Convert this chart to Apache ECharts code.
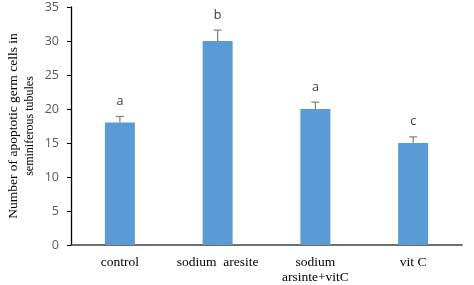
<!DOCTYPE html>
<html><head><meta charset="utf-8">
<script src="https://cdn.jsdelivr.net/npm/echarts@6/dist/echarts.min.js"></script>
<style>html,body{margin:0;padding:0;background:#fff}#c{width:474px;height:285px}</style>
</head><body><div id="c"></div>
<script>
const categories = ['control', 'sodium  aresite', 'sodium\narsinte+vitC', 'vit C'];
const values = [18, 30, 20, 15];
const errors = [0.9, 1.6, 1.0, 0.9];
const letters = ['a', 'b', 'a', 'c'];
const yTicks = [0, 5, 10, 15, 20, 25, 30, 35];
const yTitleLines = ['Number of apoptotic germ cells in', 'seminiferous tubules'];

const chart = echarts.init(document.getElementById('c'));
chart.setOption({
  animation: false,
  grid: {left: 71, right: 12, top: 7, bottom: 39},
  graphic: [
    {type: 'text', x: 13, y: 126, rotation: Math.PI / 2,
      style: {text: yTitleLines[0], align: 'center', verticalAlign: 'middle', fill: '#000', font: '13.5px "Liberation Serif"'}},
    {type: 'text', x: 30, y: 126, rotation: Math.PI / 2,
      style: {text: yTitleLines[1], align: 'center', verticalAlign: 'middle', fill: '#000', font: '12px "Liberation Serif"'}}
  ],
  xAxis: {
    type: 'category', data: categories,
    axisLine: {lineStyle: {color: '#404040', width: 1.5}},
    axisTick: {show: false},
    axisLabel: {interval: 0, color: '#000', fontFamily: 'Liberation Serif', fontSize: 13.5, margin: 10, lineHeight: 15}
  },
  yAxis: {
    type: 'value', min: 0, max: 35, interval: 5,
    axisLine: {show: true, lineStyle: {color: '#000', width: 1.3}},
    axisTick: {show: true, length: 4, lineStyle: {color: '#000'}},
    splitLine: {show: false},
    axisLabel: {color: '#595959', fontFamily: 'Open Sans', fontSize: 12.5, margin: 12,
      formatter: v => yTicks.includes(v) ? String(v) : ''}
  },
  series: [
    {
      type: 'bar', data: values, barWidth: 30,
      itemStyle: {color: '#5B9BD5'}
    },
    {
      type: 'custom',
      data: values.map((v, i) => [i, v, errors[i]]),
      z: 5,
      renderItem: function (params, api) {
        const i = api.value(0), v = api.value(1), e = api.value(2);
        const p0 = api.coord([i, v]);
        const p1 = api.coord([i, v + e]);
        const cap = 4;
        return {
          type: 'group',
          children: [
            {type: 'line', shape: {x1: p0[0], y1: p0[1], x2: p1[0], y2: p1[1]}, style: {stroke: '#7f7f7f', lineWidth: 1.2}},
            {type: 'line', shape: {x1: p1[0] - cap, y1: p1[1], x2: p1[0] + cap, y2: p1[1]}, style: {stroke: '#7f7f7f', lineWidth: 1.2}},
            {type: 'text', style: {text: letters[params.dataIndex], x: p1[0], y: p1[1] - 15, align: 'center', verticalAlign: 'middle', fill: '#404040', font: '12.5px "Open Sans"'}}
          ]
        };
      }
    }
  ]
});
</script></body></html>
